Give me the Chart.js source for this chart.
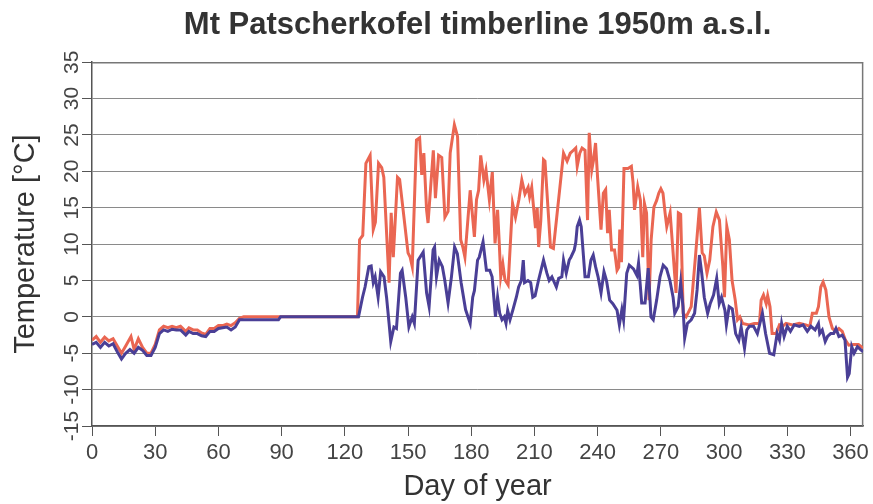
<!DOCTYPE html>
<html>
<head>
<meta charset="utf-8">
<script src="https://cdn.jsdelivr.net/npm/chart.js@4/dist/chart.umd.min.js"></script>
<style>
  body { margin: 0; background: #fff; }
  #wrap { width: 873px; height: 504px; }
</style>
</head>
<body>
<div id="wrap"><canvas id="canvas"></canvas></div>
<script>
// red line (upper curve)
var redDays = [0,2,4,6,8,10,12,14,16,18.5,20,22,24,26,28,30,32,34,36,38,40,42,44.5,46,48,50,52,54,56,58,60,62,64,66,68,70,72,126,
  127,128.5,130,132,133.5,134.5,136,137.5,138.5,141,142,143,145,146,150,151,152,154,155.5,156.5,157.5,158.8,159.5,162,163,164.5,166,167.5,169,170,172,173.5,175,176,177,179.5,181.5,182.5,183.5,184.5,186,187,188.6,190,191.3,192.5,193.3,194,195,196,197.5,199.6,201,202.6,204,205.5,207,207.7,208.7,210.5,211.3,212,213,214.3,215,217.6,219,223.8,225.5,227,228.5,229.6,230.3,231.5,232.6,234,235.2,236,237.2,238,239,240,241.6,242.7,243.8,244.7,245.5,246.6,248,249.2,250,250.5,251.3,252.5,254.4,256,256.8,257.5,259,260.3,261.4,262.2,263.2,264.4,265.4,266.7,268,269,270,271,272,272.8,274.4,275.6,277.2,278.3,279.4,280.6,282,284.4,286.4,288.3,289.6,290.6,291.9,293.2,294.7,296.3,297.8,299.4,300.2,301.3,302.5,303.8,305.3,306.4,307.5,308.8,311.9,314.3,316.8,317.6,318.7,320,320.7,321.8,322.8,324.7,326.3,327.8,329.4,332.5,335.7,338.8,340.7,341.9,343.8,344.8,345.9,347,348.3,349.8,351.4,353,354.5,356.1,357.6,359.2,361.5,363.8,366];
var redTemps = [-3.2,-2.7,-3.5,-2.8,-3.3,-3.0,-4.0,-5.0,-4.0,-2.7,-4.5,-3.0,-4.2,-5.0,-5.0,-3.8,-1.8,-1.3,-1.5,-1.3,-1.5,-1.3,-2.0,-1.5,-1.8,-1.8,-2.2,-2.4,-1.6,-1.6,-1.2,-1.2,-1.0,-1.2,-0.8,-0.2,0,0,
  10.6,11.2,21.1,22.2,12,13,21.1,20.5,19.2,4.7,14.3,8.2,19.2,18.9,8.8,8.2,6.9,24.3,24.6,19.5,22.5,14.7,12.9,22.9,16.3,22.2,21.9,13.7,14.5,22.5,26.4,24.8,10.6,9.6,8.2,17.4,11,16.1,17.4,22.2,18.8,20.2,16.1,19.9,10.1,14.7,10.1,5.5,7.3,5.1,4.4,15.6,13.7,16.1,18.8,16.9,17.8,16.5,17.8,12.2,15.0,9.6,13.2,21.6,21.4,9.6,9.4,22.5,21.4,22.5,22.9,23.2,20.7,22.5,23.2,22.9,13.3,25.3,20.2,21.5,23.9,19,12,17,17.5,11.5,14.7,9.2,9.2,6.4,6.8,12,7.5,20.4,20.4,20.7,18.5,14.7,17.9,16,8.2,15.6,14.3,2.3,10.6,15.1,16,17,17.6,17,14.3,12.4,14.3,9.6,3.3,14.3,14.1,0.5,0,1.4,8.2,15,8.8,8.4,6.0,7.8,12.4,14.4,13.3,7.0,2.7,12.4,10.6,5.0,2.3,-0.4,0.0,-0.9,-1.1,-0.9,-0.9,2.3,3.0,1.8,2.9,1.4,-2.3,-2.3,-1.1,-1.3,-0.9,-1.1,-0.9,-1.1,-1.3,0.5,0.5,1.4,4.1,4.8,3.7,0.0,-1.6,-2.0,-1.6,-2.0,-3.2,-3.9,-3.8,-3.8,-4.3];

// blue line (lower curve)
var blueDays = [0,2,4,6,8,10,12,14,16,18,20,22,24,26,28,30,32,34,36,38,40,42,44.5,46,48,50,52,54,56,58,60,62,64,66,68,70,88.5,89.5,126.5,
  128.4,129.6,131.4,132.5,133.5,134.4,135.8,137,138.6,139.8,141,141.8,143.3,144.5,146.4,147.2,148.9,150.4,152,153,154.8,157.2,158.8,160,161.9,162.6,163.5,164.8,166.3,167.4,169,170.6,172.1,173.4,175.2,177.3,179.5,180.7,181.5,183,183.8,185.6,187.2,188.8,189.9,190.7,191.5,192.5,193.5,194.6,195.7,196.5,197.3,198.4,199.8,201.4,202.5,203.8,204.7,205.3,206.9,208.2,209.2,210.3,211.9,214.3,215.9,217,218.3,220.4,221.5,223,223.8,225.1,226.5,227.3,228.9,229.6,230.3,231.4,232.2,234,235.6,236.8,237.9,239,240.2,241.6,243,244.2,245.7,247.2,249.2,250.3,251.5,252.3,253.8,255,257,258.6,259.4,260.9,262.5,264,265.3,266.4,268,269.6,271.1,272.7,274.3,275.8,276.6,278.2,279.4,280.5,281.3,282.6,284.4,286,287.2,288.3,289.4,290.6,292.2,293.4,295,296.5,297.7,298.8,300.4,301.1,302.4,303.9,305.5,307,308.1,309.7,310.8,312,314,315.8,318.2,319.7,321.6,323.6,325.2,326.3,327.3,328.5,330,331.5,333.3,335.7,337.5,339.5,341.2,343.2,344.8,345.4,346.6,348,349.1,350.6,352,353.1,354.5,356.1,357.4,358.6,359.4,360.6,361.7,363.3,364.8,366];
var blueTemps = [-3.8,-3.5,-4.2,-3.5,-4.0,-3.7,-4.8,-5.8,-5.0,-4.5,-5.0,-4.2,-4.6,-5.3,-5.3,-4.2,-2.3,-1.8,-2.0,-1.7,-1.8,-1.8,-2.5,-2.0,-2.3,-2.3,-2.6,-2.7,-2.0,-2.0,-1.6,-1.5,-1.4,-1.8,-1.4,-0.4,-0.4,0,0,
  2.7,4.1,6.9,7.0,4.7,5.5,2.7,6.2,5.5,2.7,-0.9,-3.4,-1.4,-1.6,6.0,6.4,2.7,-1.4,0,-0.9,7.8,8.9,3.3,1.4,9.2,9.6,5.5,7.8,6.9,5.1,1.9,5.5,9.6,8.7,4.7,1.0,-0.9,2.7,3.6,7.8,8.2,10.3,6.4,6.4,5.5,2.7,0,2.7,0.5,-0.4,0,-0.9,0.9,-0.4,1.0,2.7,4.1,5.0,7.8,4.7,5.0,4.7,2.7,2.9,5.0,7.8,6.0,5.0,5.5,4.1,5.3,5.5,7.8,6.0,7.8,8.2,9.2,10.2,12.4,13.3,12.4,5.5,5.5,7.8,8.5,6.9,5.5,3.3,6.2,5.0,2.3,1.8,0.9,-1.1,1.0,-0.4,6.0,7.1,6.6,5.7,7.4,1.9,1.9,6.7,0,-0.4,2.3,5.5,7.1,6.6,5.0,2.7,0.5,1.4,4.7,1.4,-2.9,-0.9,-0.4,0.5,3.7,8.5,6.0,2.7,0.5,1.8,3.0,5.3,1.8,2.7,0.9,-1.1,1.4,1.1,-2.3,-3.2,-1.4,-4.3,-1.8,-1.3,-1.3,-2.3,0.5,-2.3,-5.0,-5.2,-2.3,-3.2,-0.9,-2.7,-1.3,-2.0,-1.1,-1.3,-1.1,-2.0,-1.3,-1.8,-0.9,-2.3,-1.8,-3.4,-2.7,-2.3,-2.3,-1.6,-2.7,-2.5,-3.2,-8.3,-7.8,-4.1,-5.0,-4.1,-4.5,-4.8];

var xTicks = [0,30,60,90,120,150,180,210,240,270,300,330,360];

function toPoints(xs, ys) {
  return xs.map(function (d, i) { return { x: d, y: ys[i] }; });
}

// frame on top and right of plot area
var framePlugin = {
  id: 'frame',
  beforeDatasetsDraw: function (chart) {
    var a = chart.chartArea, ctx = chart.ctx;
    ctx.save();
    ctx.strokeStyle = '#777';
    ctx.lineWidth = 1.5;
    ctx.beginPath();
    ctx.moveTo(a.left, a.top + 0.5);
    ctx.lineTo(a.right - 0.5, a.top + 0.5);
    ctx.lineTo(a.right - 0.5, a.bottom);
    ctx.stroke();
    ctx.restore();
  }
};

var font = "'Liberation Sans', Arial, sans-serif";
var ctx = document.getElementById('canvas').getContext('2d');
var myChart = new Chart(ctx, {
  type: 'line',
  data: {
    datasets: [{
      label: 'Lower',
      data: toPoints(blueDays, blueTemps),
      borderColor: '#4a3f96',
      borderWidth: 3,
      pointRadius: 0,
      tension: 0,
      order: 0
    }, {
      label: 'Upper',
      data: toPoints(redDays, redTemps),
      borderColor: '#ea6652',
      borderWidth: 3,
      pointRadius: 0,
      tension: 0,
      order: 1
    }]
  },
  options: {
    responsive: true,
    maintainAspectRatio: false,
    animation: false,
    layout: { padding: { left: 0, right: 2, top: 0, bottom: 0 }, autoPadding: false },
    plugins: {
      legend: { display: false },
      tooltip: { enabled: false },
      title: {
        display: true,
        fullSize: false,
        text: 'Mt Patscherkofel timberline 1950m a.s.l.',
        color: '#333',
        font: { family: font, size: 31, weight: 'bold', lineHeight: 1.2 },
        padding: { top: 7, bottom: 18 }
      }
    },
    scales: {
      x: {
        type: 'linear',
        min: 0,
        max: 366,
        afterBuildTicks: function (scale) {
          scale.ticks = xTicks.map(function (v) { return { value: v }; });
        },
        afterFit: function (scale) { scale.height = 78; },
        grid: { drawOnChartArea: false, tickLength: 10, color: '#555', tickColor: '#555' },
        border: { color: '#555', width: 1.5 },
        ticks: { color: '#444', padding: 4, maxRotation: 0, font: { family: font, size: 22 } },
        title: {
          display: true,
          text: 'Day of year',
          color: '#333',
          padding: { top: 2, bottom: 0 },
          font: { family: font, size: 29 }
        }
      },
      y: {
        min: -15,
        max: 35,
        afterFit: function (scale) { scale.width = 92; },
        grid: { color: '#8a8a8a', lineWidth: 1, tickLength: 10, tickColor: '#555' },
        border: { color: '#555', width: 1.5 },
        ticks: {
          stepSize: 5,
          minRotation: 90,
          maxRotation: 90,
          crossAlign: 'center',
          padding: -5,
          color: '#444',
          font: { family: font, size: 21 }
        },
        title: {
          display: true,
          text: 'Temperature [°C]',
          color: '#333',
          padding: { top: 9, bottom: 0 },
          font: { family: font, size: 29 }
        }
      }
    }
  },
  plugins: [framePlugin]
});
</script>
</body>
</html>
